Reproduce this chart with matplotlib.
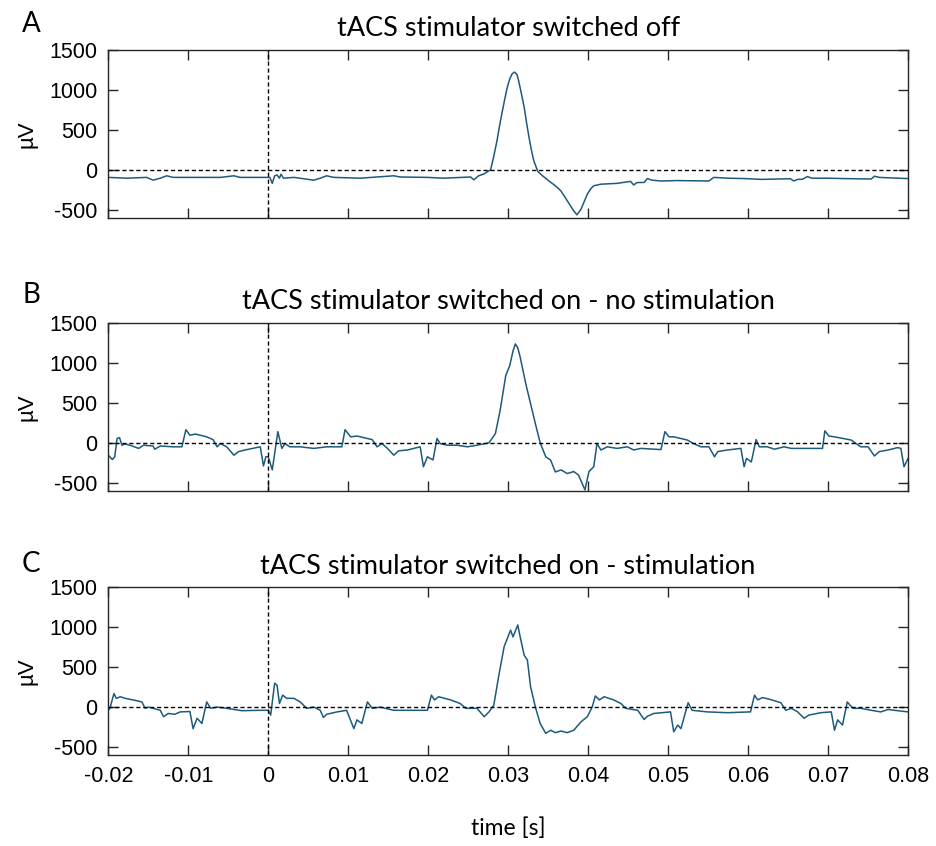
import numpy as np
import matplotlib
matplotlib.use("Agg")
import matplotlib.pyplot as plt

# --- data (time in s, amplitude in uV) ---
t_off = [-0.0200, -0.0177, -0.0152, -0.0144, -0.0135, -0.0127, -0.0119, -0.0094,
         -0.0060, -0.0043, -0.0035, -0.0010, 0.0002, 0.0005, 0.0008, 0.0011,
         0.0014, 0.0016, 0.0019, 0.0032, 0.0057, 0.0065, 0.0073, 0.0082,
         0.0115, 0.0157, 0.0165, 0.0199, 0.0219, 0.0253, 0.0257, 0.0263,
         0.0270, 0.0278, 0.0282, 0.0286, 0.0289, 0.0292, 0.0296, 0.0299,
         0.0302, 0.0305, 0.0308, 0.0311, 0.0313, 0.0316, 0.0320, 0.0323,
         0.0326, 0.0329, 0.0332, 0.0337, 0.0343, 0.0351, 0.0359, 0.0366,
         0.0374, 0.0382, 0.0386, 0.0391, 0.0395, 0.0399, 0.0403, 0.0407,
         0.0416, 0.0436, 0.0453, 0.0457, 0.0461, 0.0470, 0.0474, 0.0480,
         0.0491, 0.0511, 0.0551, 0.0557, 0.0575, 0.0596, 0.0617, 0.0653,
         0.0657, 0.0662, 0.0668, 0.0674, 0.0680, 0.0699, 0.0720, 0.0754,
         0.0758, 0.0764, 0.0775, 0.0800]
uv_off = [-95, -105, -95, -130, -105, -75, -95, -95,
          -95, -75, -95, -95, -95, -170, -75, -65,
          -105, -55, -105, -95, -130, -105, -75, -95,
          -105, -75, -90, -95, -105, -90, -125, -75,
          -50, 0, 170, 365, 540, 700, 900, 1040,
          1140, 1205, 1225, 1195, 1120, 980, 785, 590,
          410, 250, 115, -20, -75, -140, -200, -265,
          -390, -515, -565, -495, -400, -305, -240, -200,
          -180, -170, -145, -190, -160, -158, -110, -130,
          -140, -135, -140, -95, -105, -110, -120, -112,
          -140, -120, -118, -85, -105, -105, -110, -115,
          -80, -95, -100, -110]

t_on = [-0.0200, -0.0195, -0.0192, -0.0189, -0.0186, -0.0183, -0.0179, -0.0173,
        -0.0162, -0.0156, -0.0144, -0.0142, -0.0135, -0.0119, -0.0108, -0.0103,
        -0.0098, -0.0091, -0.0077, -0.0069, -0.0064, -0.0060, -0.0052, -0.0043,
        -0.0037, -0.0029, -0.0010, -0.0006, -0.0003, 0.0000, 0.0005, 0.0012,
        0.0017, 0.0021, 0.0027, 0.0040, 0.0057, 0.0073, 0.0092, 0.0096,
        0.0103, 0.0111, 0.0130, 0.0136, 0.0142, 0.0148, 0.0157, 0.0163,
        0.0174, 0.0190, 0.0194, 0.0199, 0.0206, 0.0211, 0.0215, 0.0224,
        0.0236, 0.0249, 0.0261, 0.0276, 0.0284, 0.0290, 0.0297, 0.0302,
        0.0306, 0.0309, 0.0312, 0.0315, 0.0322, 0.0328, 0.0334, 0.0340,
        0.0347, 0.0353, 0.0359, 0.0366, 0.0374, 0.0382, 0.0388, 0.0396,
        0.0401, 0.0407, 0.0411, 0.0416, 0.0424, 0.0436, 0.0449, 0.0457,
        0.0466, 0.0491, 0.0496, 0.0501, 0.0507, 0.0524, 0.0532, 0.0541,
        0.0551, 0.0558, 0.0562, 0.0574, 0.0591, 0.0595, 0.0598, 0.0604,
        0.0610, 0.0614, 0.0624, 0.0633, 0.0645, 0.0654, 0.0693, 0.0696,
        0.0701, 0.0708, 0.0729, 0.0735, 0.0741, 0.0750, 0.0758, 0.0764,
        0.0775, 0.0787, 0.0791, 0.0795, 0.0800]
uv_on = [-155, -210, -175, 55, 65, -30, -15, -30,
         -70, -30, -40, -80, -40, -50, -50, 165,
         95, 110, 75, 40, -50, -10, -50, -155,
         -110, -90, -50, -290, -175, -175, -340, 140,
         -70, -10, -50, -50, -70, -50, -50, 165,
         75, 85, 40, -50, -10, -60, -155, -100,
         -90, -50, -300, -175, -215, 55, -10, -30,
         -30, -50, -30, 0, 115, 410, 845, 970,
         1150, 1240, 1190, 1075, 740, 490, 240, 0,
         -175, -215, -365, -340, -385, -360, -405, -590,
         -360, -300, -10, -90, -50, -70, -50, -90,
         -70, -85, 140, 75, 75, 35, -10, -50,
         -50, -175, -110, -90, -70, -300, -195, -240,
         40, -50, -50, -80, -50, -70, -70, 150,
         85, 75, 35, -10, -50, -50, -165, -110,
         -90, -60, -70, -300, -195]

t_stim = [-0.0200, -0.0198, -0.0193, -0.0190, -0.0185, -0.0179, -0.0169, -0.0158,
          -0.0154, -0.0150, -0.0144, -0.0135, -0.0131, -0.0125, -0.0117, -0.0110,
          -0.0098, -0.0094, -0.0089, -0.0083, -0.0077, -0.0072, -0.0064, -0.0052,
          -0.0033, -0.0010, 0.0000, 0.0003, 0.0008, 0.0011, 0.0014, 0.0018,
          0.0023, 0.0032, 0.0040, 0.0048, 0.0057, 0.0065, 0.0069, 0.0073,
          0.0086, 0.0098, 0.0107, 0.0111, 0.0117, 0.0124, 0.0130, 0.0140,
          0.0157, 0.0199, 0.0204, 0.0208, 0.0213, 0.0228, 0.0240, 0.0247,
          0.0261, 0.0270, 0.0276, 0.0282, 0.0288, 0.0295, 0.0303, 0.0306,
          0.0312, 0.0315, 0.0320, 0.0324, 0.0328, 0.0334, 0.0340, 0.0347,
          0.0353, 0.0359, 0.0366, 0.0374, 0.0382, 0.0391, 0.0399, 0.0405,
          0.0409, 0.0414, 0.0420, 0.0432, 0.0441, 0.0447, 0.0462, 0.0470,
          0.0474, 0.0482, 0.0503, 0.0507, 0.0512, 0.0516, 0.0525, 0.0530,
          0.0549, 0.0574, 0.0603, 0.0608, 0.0612, 0.0618, 0.0628, 0.0641,
          0.0647, 0.0654, 0.0662, 0.0670, 0.0676, 0.0691, 0.0704, 0.0708,
          0.0712, 0.0718, 0.0724, 0.0731, 0.0741, 0.0754, 0.0766, 0.0775,
          0.0783, 0.0800]
uv_stim = [-40, -15, 170, 110, 130, 110, 90, 65,
           -15, 0, -15, -40, -120, -80, -90, -60,
           -55, -270, -140, -205, 65, -15, 0, -15,
           -45, -40, -40, -100, 300, 275, 45, 150,
           110, 110, 65, -15, 0, -40, -130, -90,
           -60, -40, -270, -160, -205, 65, -15, 0,
           -40, -40, 150, 90, 130, 90, 45, -15,
           -15, -120, -60, 25, 380, 760, 965, 880,
           1030, 880, 650, 590, 255, 0, -205, -330,
           -290, -320, -300, -320, -290, -185, -120, 0,
           140, 90, 130, 90, 45, -15, -40, -155,
           -115, -80, -60, -310, -225, -270, 55, -40,
           -60, -70, -60, 150, 90, 120, 95, 55,
           -40, -15, -60, -140, -100, -70, -60, -290,
           -160, -225, 65, -15, -15, -40, -60, -30,
           -40, -60]

titles = ["tACS stimulator switched off",
          "tACS stimulator switched on - no stimulation",
          "tACS stimulator switched on - stimulation"]
letters = ["A", "B", "C"]
x_ticks = [-0.02, -0.01, 0, 0.01, 0.02, 0.03, 0.04, 0.05, 0.06, 0.07, 0.08]
x_ticklabels = ["-0.02", "-0.01", "0", "0.01", "0.02", "0.03", "0.04", "0.05",
                "0.06", "0.07", "0.08"]
y_ticks = [-500, 0, 500, 1000, 1500]

series = [(t_off, uv_off), (t_on, uv_on), (t_stim, uv_stim)]

tick_font = ["Liberation Sans", "DejaVu Sans"]
title_font = ["Lato", "DejaVu Sans"]
line_color = "#1d5a7c"
frame_color = "#262626"

fig = plt.figure(figsize=(9.37, 8.46), dpi=100)
bottoms = [0.7427, 0.4200, 0.1076]
letter_y = [1 - 24 / 846, 1 - 295 / 846, 1 - 564 / 846]

for i, (t, uv) in enumerate(series):
    ax = fig.add_axes([0.1156, bottoms[i], 0.8535, 0.198])
    ax.plot(t, uv, color=line_color, linewidth=1.1)
    ax.axhline(0, color="black", linestyle=(0, (3, 2)), linewidth=1.0)
    ax.axvline(0, color="black", linestyle=(0, (3, 2)), linewidth=1.0)
    ax.set_xlim(-0.02, 0.08)
    ax.set_ylim(-600, 1500)
    ax.set_xticks(x_ticks)
    ax.set_yticks(y_ticks)
    ax.set_yticklabels([str(v) for v in y_ticks], fontfamily=tick_font, fontsize=15.5)
    if i == 2:
        ax.set_xticklabels(x_ticklabels, fontfamily=tick_font, fontsize=15.5)
        ax.set_xlabel("time [s]", fontfamily=title_font, fontsize=16.5, labelpad=22)
    else:
        ax.set_xticklabels([])
    ax.tick_params(direction="in", length=7, width=1.0, top=True, right=True,
                   colors=frame_color, labelcolor="black", pad=8)
    for s in ax.spines.values():
        s.set_color(frame_color)
        s.set_linewidth(1.0)
    ax.set_ylabel("\u00b5V", fontfamily=tick_font, fontsize=16, labelpad=8)
    ax.set_title(titles[i], fontfamily=title_font, fontsize=19.5, pad=10)
    fig.text(31 / 937, letter_y[i], letters[i], fontfamily=title_font, fontsize=20,
             ha="center", va="center")

plt.savefig("out.png", dpi=100)
